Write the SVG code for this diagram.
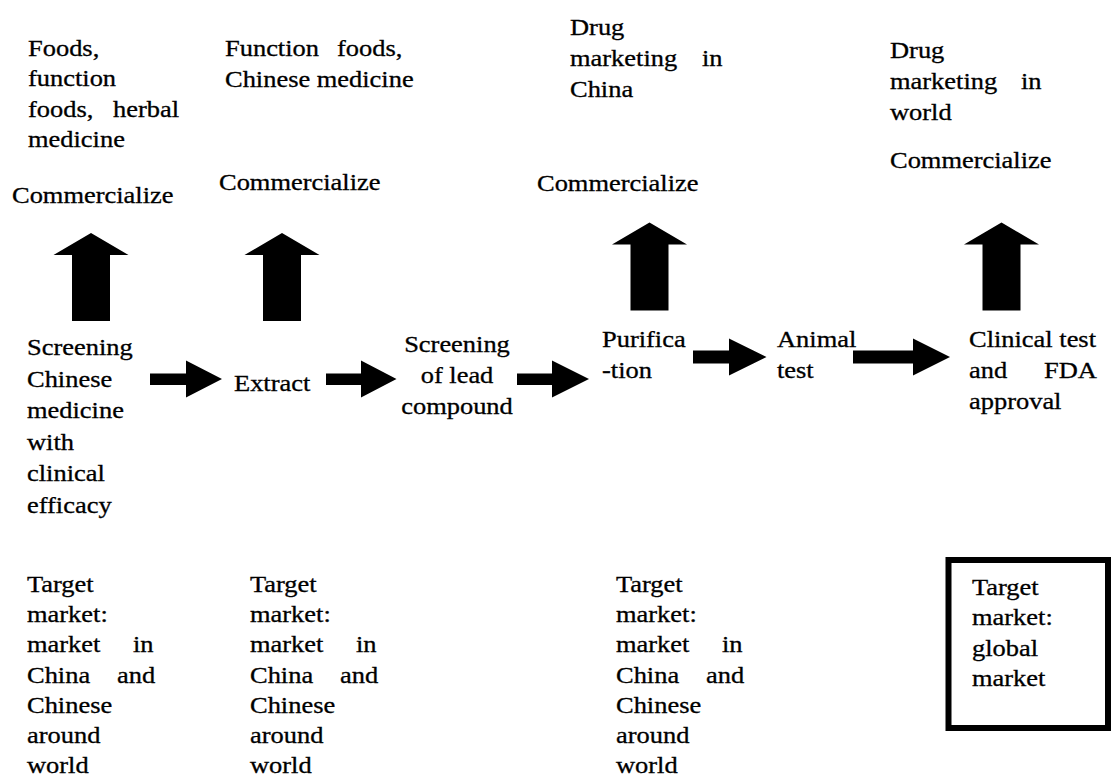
<svg xmlns="http://www.w3.org/2000/svg" width="1111" height="779" viewBox="0 0 1111 779">
  <style>
    text { font-family: "Liberation Serif", "Times New Roman", serif; font-size: 23px; fill: #000; stroke: #000; stroke-width: 0.3; }
    .arrow { fill: #000; stroke: none; }
    .frame { fill: none; stroke: #000; stroke-width: 6; }
  </style>
  <defs>
    <!-- block up-arrow: apex at (0,0), head 22 tall, shaft to y=88 -->
    <path id="up-arrow" d="M0,0 L37.5,22 L19,22 L19,88 L-19,88 L-19,22 L-37.5,22 Z"/>
  </defs>
  <rect width="1111" height="779" fill="#fff"/>

  <!-- product outcomes (top row) -->
  <g id="outcome-foods" transform="translate(28,0) scale(1.15,1)">
    <text x="0" y="56">Foods,</text>
    <text x="0" y="86.5">function</text>
    <text x="0" y="117">foods,</text><text x="73.9" y="117">herbal</text>
    <text x="0" y="147.5">medicine</text>
  </g>
  <g id="commercialize-1" transform="translate(12,0) scale(1.15,1)">
    <text x="0" y="203.5">Commercialize</text>
  </g>

  <g id="outcome-function-foods" transform="translate(225,0) scale(1.15,1)">
    <text x="0" y="56">Function</text><text x="97.4" y="56">foods,</text>
    <text x="0" y="87">Chinese medicine</text>
  </g>
  <g id="commercialize-2" transform="translate(219,0) scale(1.15,1)">
    <text x="0" y="190.5">Commercialize</text>
  </g>

  <g id="outcome-drug-china" transform="translate(570,0) scale(1.15,1)">
    <text x="0" y="35">Drug</text>
    <text x="0" y="66">marketing</text><text x="114.8" y="66">in</text>
    <text x="0" y="97">China</text>
  </g>
  <g id="commercialize-3" transform="translate(537,0) scale(1.15,1)">
    <text x="0" y="191.5">Commercialize</text>
  </g>

  <g id="outcome-drug-world" transform="translate(890,0) scale(1.15,1)">
    <text x="0" y="58">Drug</text>
    <text x="0" y="89.5">marketing</text><text x="113.9" y="89.5">in</text>
    <text x="0" y="120">world</text>
  </g>
  <g id="commercialize-4" transform="translate(890,0) scale(1.15,1)">
    <text x="0" y="168">Commercialize</text>
  </g>

  <!-- process steps (middle row) -->
  <g id="step-screening" transform="translate(27,0) scale(1.15,1)">
    <text x="0" y="355">Screening</text>
    <text x="0" y="386.6">Chinese</text>
    <text x="0" y="418.2">medicine</text>
    <text x="0" y="449.8">with</text>
    <text x="0" y="481.4">clinical</text>
    <text x="0" y="513">efficacy</text>
  </g>
  <g id="step-extract" transform="translate(234,0) scale(1.15,1)">
    <text x="0" y="391.5">Extract</text>
  </g>
  <g id="step-lead" transform="translate(457,0) scale(1.15,1)" text-anchor="middle">
    <text x="0" y="352">Screening</text>
    <text x="0" y="383">of lead</text>
    <text x="0" y="414">compound</text>
  </g>
  <g id="step-purification" transform="translate(602,0) scale(1.15,1)">
    <text x="0" y="346.7">Purifica</text>
    <text x="0" y="378">-tion</text>
  </g>
  <g id="step-animal" transform="translate(777,0) scale(1.15,1)">
    <text x="0" y="346.7">Animal</text>
    <text x="0" y="378">test</text>
  </g>
  <g id="step-clinical" transform="translate(969,0) scale(1.15,1)">
    <text x="0" y="346.7">Clinical test</text>
    <text x="0" y="377.7">and</text><text x="65.2" y="377.7">FDA</text>
    <text x="0" y="408.7">approval</text>
  </g>

  <!-- target markets (bottom row) -->
  <g id="market-1" transform="translate(27,0) scale(1.15,1)">
    <text x="0" y="592">Target</text>
    <text x="0" y="622">market:</text>
    <text x="0" y="652.5">market</text><text x="92.2" y="652.5">in</text>
    <text x="0" y="683">China</text><text x="78.3" y="683">and</text>
    <text x="0" y="713">Chinese</text>
    <text x="0" y="743.5">around</text>
    <text x="0" y="773.5">world</text>
  </g>
  <g id="market-2" transform="translate(250,0) scale(1.15,1)">
    <text x="0" y="592">Target</text>
    <text x="0" y="622">market:</text>
    <text x="0" y="652.5">market</text><text x="92.2" y="652.5">in</text>
    <text x="0" y="683">China</text><text x="78.3" y="683">and</text>
    <text x="0" y="713">Chinese</text>
    <text x="0" y="743.5">around</text>
    <text x="0" y="773.5">world</text>
  </g>
  <g id="market-3" transform="translate(616,0) scale(1.15,1)">
    <text x="0" y="592">Target</text>
    <text x="0" y="622">market:</text>
    <text x="0" y="652.5">market</text><text x="92.2" y="652.5">in</text>
    <text x="0" y="683">China</text><text x="78.3" y="683">and</text>
    <text x="0" y="713">Chinese</text>
    <text x="0" y="743.5">around</text>
    <text x="0" y="773.5">world</text>
  </g>
  <g id="market-global">
    <rect class="frame" x="948.5" y="560" width="159.5" height="168"/>
    <g transform="translate(972,0) scale(1.15,1)">
      <text x="0" y="595">Target</text>
      <text x="0" y="625.5">market:</text>
      <text x="0" y="656">global</text>
      <text x="0" y="686.5">market</text>
    </g>
  </g>

  <!-- connectors: process flow and commercialisation arrows -->
  <g id="connectors">
    <path id="flow-1" class="arrow" d="M150,373.5 L186,373.5 L186,360.5 L222,379 L186,397.5 L186,385 L150,385 Z"/>
    <path id="flow-2" class="arrow" d="M326,373.5 L361,373.5 L361,360.5 L396.5,379 L361,397.5 L361,385 L326,385 Z"/>
    <path id="flow-3" class="arrow" d="M517,373.5 L552,373.5 L552,360.5 L589,379 L552,397.5 L552,385 L517,385 Z"/>
    <path id="flow-4" class="arrow" d="M693,350.5 L729,350.5 L729,338.5 L766.5,357 L729,375.5 L729,363.5 L693,363.5 Z"/>
    <path id="flow-5" class="arrow" d="M853,350.5 L913,350.5 L913,338.5 L950,357 L913,375.5 L913,363.5 L853,363.5 Z"/>
    <use id="up-1" href="#up-arrow" class="arrow" transform="translate(91,233)"/>
    <use id="up-2" href="#up-arrow" class="arrow" transform="translate(282,233)"/>
    <use id="up-3" href="#up-arrow" class="arrow" transform="translate(649.5,222.5)"/>
    <use id="up-4" href="#up-arrow" class="arrow" transform="translate(1001.5,222.5)"/>
  </g>
</svg>
